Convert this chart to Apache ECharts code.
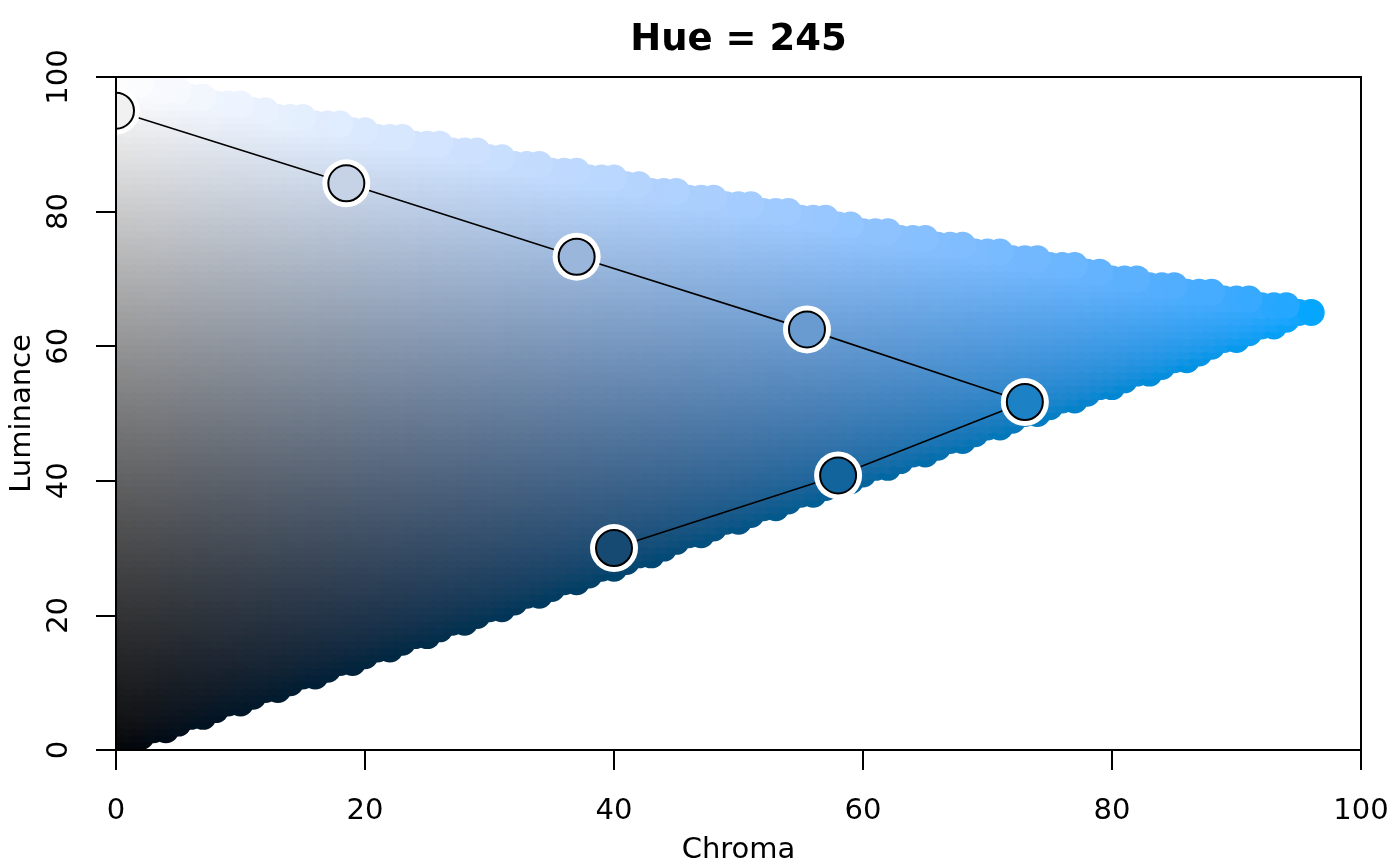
<!DOCTYPE html>
<html>
<head>
<meta charset="utf-8">
<title>Hue = 245</title>
<script src="https://cdn.jsdelivr.net/npm/echarts@6/dist/echarts.min.js"></script>
<style>
  html, body { margin: 0; padding: 0; background: #fff; }
  #chart { width: 1400px; height: 866px; }
</style>
</head>
<body>
<div id="chart"></div>
<script>
const hue = 245;

// palette trajectory (chroma, luminance)
const pathChroma = [0, 18.5, 37, 55.5, 73, 58, 40];
const pathLuminance = [95, 84.2, 73.3, 62.5, 51.7, 40.8, 30];

// background: luminance rows 0..100, widest in-gamut chroma of each row (-1 = none)
const rowLuminance = [
  0, 1, 2, 3, 4, 5, 6, 7, 8, 9, 10, 11, 12, 13, 14, 15, 16, 17, 18, 19, 20,
  21, 22, 23, 24, 25, 26, 27, 28, 29, 30, 31, 32, 33, 34, 35, 36, 37, 38, 39, 40,
  41, 42, 43, 44, 45, 46, 47, 48, 49, 50, 51, 52, 53, 54, 55, 56, 57, 58, 59, 60,
  61, 62, 63, 64, 65, 66, 67, 68, 69, 70, 71, 72, 73, 74, 75, 76, 77, 78, 79, 80,
  81, 82, 83, 84, 85, 86, 87, 88, 89, 90, 91, 92, 93, 94, 95, 96, 97, 98, 99, 100,
];
const rowMaxChroma = [
  0, 1, 2, 4, 5, 7, 8, 10, 11, 13, 14, 16, 17, 19, 20, 22, 23,
  25, 26, 28, 29, 31, 32, 34, 35, 37, 38, 40, 41, 43, 44, 45, 47, 48,
  50, 51, 53, 54, 56, 57, 59, 60, 62, 63, 65, 66, 68, 69, 71, 72, 74,
  75, 77, 78, 80, 81, 83, 84, 86, 87, 88, 90, 91, 93, 94, 96, 94, 91,
  88, 85, 82, 79, 77, 74, 71, 68, 65, 62, 59, 57, 54, 51, 48, 45, 42,
  40, 37, 34, 31, 29, 26, 23, 20, 18, 15, 12, 10, 7, 5, 2, -1,
];

const xTicks = [0, 20, 40, 60, 80, 100];
const yTicks = [0, 20, 40, 60, 80, 100];

// polarLUV -> sRGB, same constants as R's hcl()
function hcl2rgb(h, c, l) {
  if (l <= 0) return [0, 0, 0];
  const hr = h * Math.PI / 180;
  const U = c * Math.cos(hr), V = c * Math.sin(hr);
  const Y = 100 * (l > 7.999592 ? Math.pow((l + 16) / 116, 3) : l / 903.3);
  const u = U / (13 * l) + 0.1978398;
  const v = V / (13 * l) + 0.4683363;
  const X = 9.0 * Y * u / (4 * v);
  const Z = -X / 3 - 5 * Y + 3 * Y / v;
  const g = (x) => x > 0.00304 ? 1.055 * Math.pow(x, 1 / 2.4) - 0.055 : 12.92 * x;
  return [
    g((3.240479 * X - 1.537150 * Y - 0.498535 * Z) / 100),
    g((-0.969256 * X + 1.875992 * Y + 0.041556 * Z) / 100),
    g((0.055648 * X - 0.204043 * Y + 1.057311 * Z) / 100),
  ];
}
function hclHex(h, c, l) {
  return "#" + hcl2rgb(h, c, l).map((v) => {
    const n = Math.round(Math.min(1, Math.max(0, v)) * 255);
    return n.toString(16).padStart(2, "0");
  }).join("");
}

const bgPoints = [];
rowLuminance.forEach((l, i) => {
  for (let c = 0; c <= rowMaxChroma[i]; c++) bgPoints.push([c, l, hclHex(hue, c, l)]);
});

const pathPoints = pathChroma.map((c, i) => [c, pathLuminance[i], hclHex(hue, c, pathLuminance[i])]);

const chart = echarts.init(document.getElementById("chart"));
const font = "DejaVu Sans";
const axisCommon = {
  type: "value", min: 0, max: 100, interval: 20, z: 20,
  nameLocation: "middle",
  nameTextStyle: { fontSize: 29, color: "#000", fontFamily: font },
  axisLine: { show: false },
  axisTick: { show: true, length: 20, lineStyle: { color: "#000", width: 2 } },
  splitLine: { show: false },
};
chart.setOption({
  animation: false,
  textStyle: { fontFamily: font },
  grid: {
    left: 116, top: 77, width: 1245, height: 673, outerBoundsMode: "none", containLabel: false,
    show: true, borderColor: "#000", borderWidth: 2, backgroundColor: "transparent", z: 20,
  },
  xAxis: Object.assign({}, axisCommon, {
    name: "Chroma", nameGap: 86,
    axisLabel: { fontSize: 29, color: "#000", margin: 47, fontFamily: font, customValues: xTicks },
  }),
  yAxis: Object.assign({}, axisCommon, {
    name: "Luminance", nameGap: 78,
    axisLabel: { fontSize: 29, color: "#000", margin: 42, rotate: 90, fontFamily: font, customValues: yTicks },
  }),
  series: [
    {
      type: "scatter", data: bgPoints, symbol: "circle", symbolSize: 27, silent: true,
      itemStyle: { color: (p) => p.data[2], opacity: 1 },
      z: 1,
    },
    {
      type: "line", data: pathPoints, symbol: "none", silent: true,
      lineStyle: { color: "#000", width: 1.6 }, z: 2,
    },
    {
      type: "scatter", data: pathPoints, symbol: "circle", symbolSize: 48, silent: true,
      itemStyle: { color: "#fff", opacity: 1 }, z: 3,
    },
    {
      type: "scatter", data: pathPoints, symbol: "circle", symbolSize: 36, silent: true,
      itemStyle: { color: (p) => p.data[2], borderColor: "#000", borderWidth: 2, opacity: 1 }, z: 4,
    },
    {
      // white margins so the dots are cut at the plot box, as R clips them; title on top
      type: "custom", data: [[0, 0]], silent: true, clip: false, z: 10,
      renderItem: (params, api) => {
        const cs = params.coordSys;
        const W = api.getWidth(), H = api.getHeight();
        const fill = { fill: "#fff" };
        return {
          type: "group",
          children: [
            { type: "rect", shape: { x: 0, y: 0, width: cs.x - 1, height: H }, style: fill },
            { type: "rect", shape: { x: 0, y: 0, width: W, height: cs.y - 1 }, style: fill },
            { type: "rect", shape: { x: 0, y: cs.y + cs.height + 1, width: W, height: H }, style: fill },
            { type: "rect", shape: { x: cs.x + cs.width + 1, y: 0, width: W, height: H }, style: fill },
            { type: "text", x: cs.x + cs.width / 2, y: 40,
              style: { text: "Hue = " + hue, font: "bold 37px DejaVu Sans", fill: "#000",
                textAlign: "center", textVerticalAlign: "middle" } },
          ],
        };
      },
    },
  ],
});
</script>
</body>
</html>
